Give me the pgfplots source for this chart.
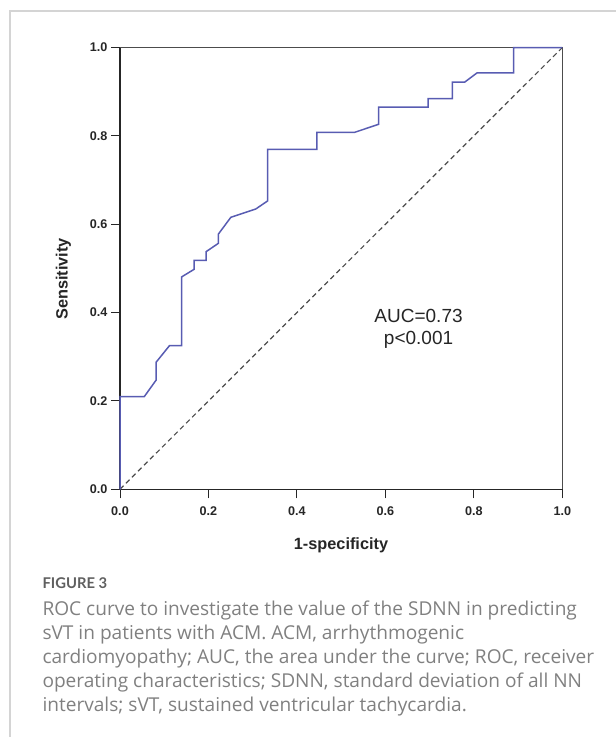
\documentclass[border=0pt]{standalone}
\usepackage{pgfplots}
\pgfplotsset{compat=1.18}
\usepackage{fontspec}
\setmainfont{Liberation Sans}
\newfontfamily\capfont{Lato}
\newfontfamily\txtfont{Open Sans}
\newcommand\tl[1]{{\fontsize{12.6}{14}\selectfont\bfseries #1}}
\definecolor{roc}{RGB}{88,92,178}
\definecolor{frameg}{RGB}{212,212,212}
\definecolor{capg}{RGB}{128,128,128}
\definecolor{figg}{RGB}{95,95,95}
\begin{document}
\begin{tikzpicture}[x=1pt,y=1pt]
\useasboundingbox (0,0) rectangle (616,737);
\draw[frameg, line width=1.8pt] (10,0) -- (10,726.3) -- (616,726.3);
\begin{axis}[
  at={(120pt,247.7pt)}, anchor=south west,
  scale only axis, width=442.3pt, height=441.7pt,
  xmin=0, xmax=1, ymin=0, ymax=1,
  xtick={0,0.2,...,1}, ytick={0,0.2,...,1},
  xticklabels={\tl{0.0},\tl{0.2},\tl{0.4},\tl{0.6},\tl{0.8},\tl{1.0}},
  yticklabels={\tl{0.0},\tl{0.2},\tl{0.4},\tl{0.6},\tl{0.8},\tl{1.0}},
  xtick pos=bottom, ytick pos=left,
  tick align=outside, major tick length=9pt,
  tick style={black!85, line width=1pt},
  axis line style={draw=none},
  /pgf/number format/assume math mode=true,
  ticklabel style={text=black!85},
  xticklabel style={yshift=-5pt},
  clip=false,
]
\draw[black!70, line width=1.2pt] (rel axis cs:0,1) -- (rel axis cs:1,1) -- (rel axis cs:1,0);
\draw[black!85, line width=1.3pt] (rel axis cs:0,1) -- (rel axis cs:0,0) -- (rel axis cs:1,0);
\addplot[black!70, line width=1.2pt, dash pattern=on 5pt off 3.5pt] coordinates {(0,0) (1,1)};
\addplot[roc, line width=1.5pt] coordinates {
(0,0) (0,0.21) (0.055,0.21) (0.0815,0.247) (0.0815,0.2875) (0.1117,0.325)
(0.1396,0.325) (0.1396,0.481) (0.1675,0.498) (0.1675,0.518) (0.1947,0.518)
(0.1947,0.538) (0.2226,0.557) (0.2226,0.578) (0.2506,0.6158) (0.307,0.6346)
(0.3335,0.6527) (0.3335,0.7697) (0.4453,0.7697) (0.4453,0.808) (0.53,0.808)
(0.5848,0.8263) (0.5848,0.865) (0.6966,0.865) (0.6966,0.8843) (0.7517,0.8843)
(0.7517,0.922) (0.7796,0.922) (0.8075,0.943) (0.890,0.943) (0.890,1.0) (1,1)
};
\node[anchor=base, font=\fontsize{19}{22}\selectfont, text=black!85, inner sep=0pt] at (axis cs:0.675,0.377) {AUC=0.73};
\node[anchor=base, font=\fontsize{19}{22}\selectfont, text=black!85, inner sep=0pt] at (axis cs:0.675,0.3267) {p<0.001};
\end{axis}
\node[anchor=base, inner sep=0pt, font=\bfseries\fontsize{16.3}{18}\selectfont, text=black!85] at (341,187.7) {1-specificity};
\node[anchor=base, rotate=90, inner sep=0pt, font=\bfseries\fontsize{16.3}{18}\selectfont, text=black!85] at (67.7,458) {Sensitivity};
\node[anchor=base west, inner sep=0pt, font=\capfont\bfseries\fontsize{14.8}{16}\selectfont, text=figg] at (42.3,148.7) {FIGURE 3};
\begin{scope}[every node/.style={anchor=base west, inner sep=0pt, font=\txtfont\fontsize{19.1}{21}\selectfont, text=capg}]
\node at (42.3,121) {ROC curve to investigate the value of the SDNN in predicting};
\node at (42.3,97) {sVT in patients with ACM. ACM, arrhythmogenic};
\node at (42.3,73) {cardiomyopathy; AUC, the area under the curve; ROC, receiver};
\node at (42.3,49) {operating characteristics; SDNN, standard deviation of all NN};
\node at (42.3,25) {intervals; sVT, sustained ventricular tachycardia.};
\end{scope}
\end{tikzpicture}
\end{document}
